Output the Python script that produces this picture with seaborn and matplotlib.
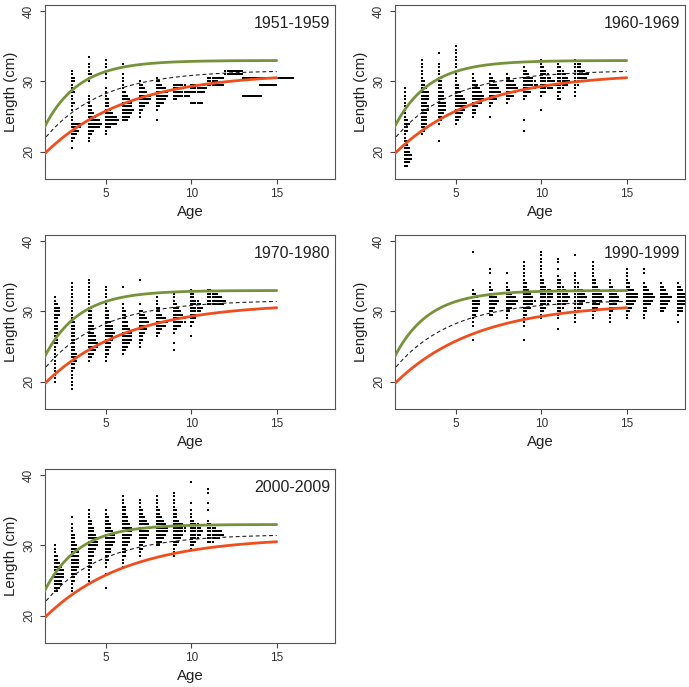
import numpy as np
import pandas as pd
import matplotlib
matplotlib.use("Agg")
import matplotlib.pyplot as plt
import seaborn as sns

# ---------------- data ----------------
panel_titles = ["1951-1959", "1960-1969", "1970-1980", "1990-1999", "2000-2009"]

# counts of fish per 0.5 cm length bin, by age: {age: [(length, count), ...]}
counts_1951 = {
    3: [(31.5,1),(31,1),(30.5,2),(30,2),(29.5,1),(29,1),(28.5,2),(28,1),(27.5,1),(27,2),(26.5,1),(26,1),
        (25,1),(24.5,1),(24,5),(23.5,5),(23,4),(22.5,3),(22,2),(21.5,1),(20.5,1)],
    4: [(33.5,1),(32.5,1),(32,1),(31.5,1),(31,2),(30.5,1),(30,1),(28,1),(27.5,1),(27,1),(26.5,2),(26,2),
        (25.5,3),(25,4),(24.5,6),(24,7),(23.5,6),(23,3),(22.5,2),(22,1),(21.5,1)],
    5: [(33,1),(32.5,1),(32,1),(31.5,1),(31,1),(30.5,1),(29,1),(28.5,1),(28,1),(27.5,2),(27,2),(26.5,2),
        (26,3),(25.5,4),(25,6),(24.5,7),(24,6),(23.5,3),(23,1),(22.5,1)],
    6: [(32.5,1),(31,1),(30.5,1),(30,1),(29.5,1),(29,1),(28.5,2),(28,3),(27.5,4),(27,5),(26.5,5),(26,6),
        (25.5,5),(25,4),(24.5,3)],
    7: [(30,1),(29.5,2),(29,3),(28.5,4),(28,6),(27.5,6),(27,5),(26.5,3),(26,2),(25.5,1),(25,1)],
    8: [(30.5,1),(30,2),(29.5,3),(29,5),(28.5,6),(28,6),(27.5,5),(27,4),(26.5,2),(26,1),(24.5,1)],
    9: [(29.5,6),(29,4),(28.5,11),(28,8),(27.5,2)],
    10: [(29.5,7),(29,8),(28.5,7),(27,6)],
    11: [(30.5,8),(30,5),(29.5,8)],
    12: [(31.5,9),(31,9)],
    13: [(30.5,9),(28,10)],
    14: [(30.5,8),(29.5,9)],
    15: [(30.5,9)],
}
counts_1960 = {
    2: [(29,1),(28.5,1),(28,1),(27.5,1),(27,1),(26.5,1),(26,1),(25.5,1),(25,1),(24.5,2),(24,3),(23.5,2),
        (23,2),(22.5,1),(22,1),(21.5,2),(21,2),(20.5,3),(20,3),(19.5,4),(19,4),(18.5,3),(18,2)],
    3: [(33,1),(32.5,1),(32,1),(31.5,1),(31,1),(30.5,1),(30,2),(29.5,2),(29,3),(28.5,4),(28,4),(27.5,4),
        (27,3),(26.5,4),(26,4),(25.5,3),(25,3),(24.5,3),(24,3),(23.5,2),(23,2),(22.5,1)],
    4: [(34,1),(32.5,1),(32,1),(31.5,1),(31,1),(30.5,2),(30,2),(29.5,2),(29,2),(28.5,3),(28,3),(27.5,3),
        (27,4),(26.5,4),(26,4),(25.5,3),(25,2),(24.5,2),(24,1),(21.5,1)],
    5: [(35,1),(34.5,1),(34,1),(33.5,1),(33,1),(32.5,1),(32,1),(31.5,1),(31,1),(30.5,1),(30,1),(29.5,2),
        (29,2),(28.5,3),(28,4),(27.5,5),(27,6),(26.5,6),(26,5),(25.5,4),(25,3),(24.5,2),(24,1)],
    6: [(31,1),(30.5,1),(30,2),(29.5,3),(29,4),(28.5,5),(28,6),(27.5,6),(27,5),(26.5,3),(26,2),(25.5,2),(25,1)],
    7: [(31,1),(30.5,2),(30,3),(29.5,4),(29,5),(28.5,6),(28,5),(27.5,4),(27,2),(26.5,1),(25,1)],
    8: [(31,1),(30.5,2),(30,4),(29.5,5),(29,6),(28.5,5),(28,4),(27.5,2),(27,1)],
    9: [(32,1),(31.5,2),(31,3),(30.5,5),(30,6),(29.5,7),(29,6),(28.5,4),(28,2),(27.5,1),(24.5,1),(23,1)],
    10: [(33,1),(32.5,1),(32,2),(31.5,3),(31,4),(30.5,5),(30,7),(29.5,8),(29,6),(28.5,3),(28,1),(26,1)],
    11: [(32.5,1),(32,2),(31.5,3),(31,4),(30.5,5),(30,6),(29.5,5),(29,3),(28.5,2),(28,1),(27.5,2)],
    12: [(33,1),(32.5,3),(32,3),(31.5,5),(31,7),(30.5,6),(30,4),(29.5,2),(29,1),(28.5,1),(28,1)],
}
counts_1970 = {
    2: [(32,1),(31.5,1),(31,2),(30.5,3),(30,3),(29.5,3),(29,2),(28.5,2),(28,2),(27.5,2),(27,2),(26.5,2),
        (26,2),(25.5,2),(25,1),(24.5,1),(24,1),(23.5,1),(23,1),(22.5,1),(22,1),(21.5,1),(21,1),(20.5,1),(20,1)],
    3: [(34,1),(33.5,1),(33,1),(32.5,1),(32,1),(31.5,1),(31,1),(30.5,1),(30,1),(29.5,1),(29,1),(28.5,2),
        (28,2),(27.5,2),(27,2),(26.5,2),(26,2),(25.5,2),(25,2),(24.5,2),(24,3),(23.5,3),(23,3),(22.5,2),
        (22,2),(21.5,1),(21,1),(20.5,1),(20,1),(19.5,1),(19,1)],
    4: [(34.5,1),(34,1),(33.5,1),(33,1),(32.5,1),(32,1),(31.5,1),(31,1),(30.5,2),(30,2),(29.5,2),(29,2),
        (28.5,2),(28,3),(27.5,3),(27,3),(26.5,4),(26,4),(25.5,5),(25,5),(24.5,4),(24,3),(23.5,2),(23,1)],
    5: [(33.5,1),(33,1),(32.5,1),(32,1),(31.5,2),(31,1),(30.5,1),(30,2),(29.5,2),(29,2),(28.5,3),(28,4),
        (27.5,4),(27,5),(26.5,4),(26,4),(25.5,3),(25,3),(24.5,2),(24,2),(23.5,1),(23,1)],
    6: [(33.5,1),(31,1),(30.5,1),(30,2),(29.5,2),(29,2),(28.5,3),(28,3),(27.5,4),(27,5),(26.5,5),(26,5),
        (25.5,4),(25,3),(24.5,2),(24,1)],
    7: [(34.5,1),(31,1),(30,2),(29.5,3),(29,4),(28.5,5),(28,5),(27.5,4),(27,3),(26.5,2),(26,2),(25.5,1),(25,1)],
    8: [(32,1),(31.5,1),(31,1),(30.5,2),(30,2),(29.5,3),(29,5),(28.5,6),(28,5),(27.5,3),(27,2),(26.5,1)],
    9: [(32.5,1),(32,1),(31.5,1),(31,2),(30.5,3),(30,4),(29.5,5),(29,6),(28.5,6),(28,4),(27.5,2),(27,1),
        (25.5,1),(24.5,1)],
    10: [(33,1),(32.5,2),(32,2),(31.5,4),(31,5),(30.5,6),(30,5),(29.5,4),(29,3),(28.5,2),(28,1),(26.5,1)],
    11: [(33,2),(32.5,5),(32,7),(31.5,9),(31,8)],
}
counts_1990 = {
    6: [(38.5,1),(33,1),(32.5,2),(32,3),(31.5,4),(31,4),(30.5,3),(30,3),(29.5,2),(29,1),(28.5,1),(28,1),(26,1)],
    7: [(36,1),(35.5,1),(34,1),(33.5,1),(33,2),(32.5,3),(32,4),(31.5,5),(31,4),(30.5,3),(30,2),(29.5,2)],
    8: [(35.5,1),(34,1),(33.5,1),(33,2),(32.5,3),(32,5),(31.5,6),(31,5),(30.5,3),(30,2),(29.5,1),(29,1)],
    9: [(37,1),(36.5,1),(36,1),(35.5,1),(35,1),(34.5,1),(34,2),(33.5,2),(33,3),(32.5,4),(32,5),(31.5,6),
        (31,5),(30.5,4),(30,2),(29.5,2),(29,1),(28.5,1),(28,1),(26,1)],
    10: [(38.5,1),(38,1),(37.5,1),(37,1),(36.5,1),(36,1),(35.5,1),(35,1),(34.5,2),(34,2),(33.5,3),(33,5),
         (32.5,6),(32,6),(31.5,5),(31,4),(30.5,3),(30,2),(29.5,1),(29,1)],
    11: [(37.5,1),(37,1),(36,1),(35,1),(34.5,2),(34,2),(33.5,3),(33,4),(32.5,5),(32,6),(31.5,5),(31,4),
         (30.5,3),(30,2),(29.5,1),(29,1),(27.5,1)],
    12: [(38,1),(35.5,1),(35,1),(34.5,1),(34,2),(33.5,2),(33,4),(32.5,5),(32,6),(31.5,5),(31,4),(30.5,3),
         (30,2),(29.5,1),(29,1),(28.5,1)],
    13: [(37,1),(36.5,1),(36,1),(35.5,1),(35,1),(34.5,2),(34,2),(33.5,3),(33,4),(32.5,5),(32,6),(31.5,5),
         (31,4),(30.5,3),(30,2),(29.5,1),(29,1)],
    14: [(34.5,1),(34,1),(33.5,2),(33,3),(32.5,4),(32,5),(31.5,5),(31,4),(30.5,3),(30,2),(29.5,1),(29,1),(28.5,1)],
    15: [(36,1),(35.5,1),(35,1),(34.5,1),(34,2),(33.5,2),(33,4),(32.5,6),(32,6),(31.5,5),(31,4),(30.5,3),
         (30,2),(29.5,1),(29,1)],
    16: [(36,1),(35.5,1),(34,1),(33.5,2),(33,3),(32.5,5),(32,6),(31.5,5),(31,4),(30.5,2),(30,2),(29.5,1),(29,1)],
    17: [(34,1),(33.5,2),(33,3),(32.5,4),(32,6),(31.5,5),(31,4),(30.5,3),(30,2)],
    18: [(34,1),(33.5,2),(33,3),(32.5,4),(32,5),(31.5,5),(31,5),(30.5,3),(30,3),(29.5,1),(28.5,1)],
}
counts_2000 = {
    2: [(30,1),(29.5,1),(29,1),(28.5,2),(28,2),(27.5,3),(27,4),(26.5,5),(26,5),(25.5,5),(25,4),(24.5,4),
        (24,3),(23.5,2)],
    3: [(34,1),(33,1),(32.5,1),(32,1),(31.5,2),(31,2),(30.5,2),(30,3),(29.5,3),(29,4),(28.5,4),(28,4),
        (27.5,4),(27,4),(26.5,3),(26,3),(25.5,2),(25,2),(24.5,1),(24,1),(23.5,1)],
    4: [(35,1),(34.5,1),(34,1),(33.5,2),(33,2),(32.5,3),(32,3),(31.5,4),(31,5),(30.5,5),(30,5),(29.5,4),
        (29,3),(28.5,3),(28,2),(27.5,2),(27,2),(26.5,1),(26,1),(25.5,1),(25,1),(24.5,1)],
    5: [(35,1),(34.5,1),(34,2),(33.5,2),(33,3),(32.5,3),(32,4),(31.5,5),(31,5),(30.5,5),(30,4),(29.5,3),
        (29,3),(28.5,2),(28,2),(27.5,1),(27,1),(26,1),(24,1)],
    6: [(37,1),(36.5,1),(36,1),(35.5,2),(35,2),(34.5,2),(34,3),(33.5,3),(33,4),(32.5,5),(32,5),(31.5,5),
        (31,4),(30.5,4),(30,3),(29.5,2),(29,2),(28.5,2),(28,1),(27.5,1),(27,1)],
    7: [(36.5,1),(36,1),(35.5,1),(35,2),(34.5,2),(34,3),(33.5,4),(33,5),(32.5,6),(32,5),(31.5,5),(31,4),
        (30.5,3),(30,2),(29.5,2),(29,1),(28.5,1)],
    8: [(37,1),(36.5,1),(36,1),(35.5,1),(35,2),(34.5,2),(34,3),(33.5,4),(33,5),(32.5,6),(32,6),(31.5,5),
        (31,4),(30.5,3),(30,2)],
    9: [(37.5,1),(37,1),(36.5,1),(36,1),(35.5,1),(35,2),(34.5,2),(34,2),(33.5,3),(33,5),(32.5,6),(32,6),
        (31.5,5),(31,4),(30.5,3),(30,2),(29.5,1),(29,1),(28.5,1)],
    10: [(39,1),(36,1),(35,1),(34.5,1),(34,1),(33.5,2),(33,4),(32.5,5),(32,6),(31.5,5),(31,4),(30.5,3),
         (30,2),(29.5,1)],
    11: [(38,1),(37.5,1),(36,1),(35,1),(33.5,1),(33,2),(32.5,4),(32,7),(31.5,8),(31,6),(30.5,3)],
}
panel_counts = [counts_1951, counts_1960, counts_1970, counts_1990, counts_2000]

# von Bertalanffy growth curves (same in every panel): upper (green), mean (dashed), lower (orange)
curve_names = ["upper", "mean", "lower"]
curve_Linf = [33.0, 31.6, 31.2]
curve_K = [0.50, 0.30, 0.21]
curve_t0 = [-1.10, -2.52, -3.35]
curve_colors = ["#76933C", "#222222", "#F04E1E"]
curve_end_age = 15

# ---------------- figure ----------------
sns.set_theme(style="white")
plt.rcParams["font.family"] = ["Liberation Sans", "DejaVu Sans"]

fig = plt.figure(figsize=(6.89, 6.87), dpi=100)
W, H = 689, 687
col_left = [45, 395]
ax_w = 290
row_top = [5, 235, 469]
ax_h = 174

step = 0.12   # horizontal stacking offset per fish (age units)
rect_marker = [(-0.65, -0.45), (0.65, -0.45), (0.65, 0.45), (-0.65, 0.45), (-0.65, -0.45)]

ages_line = np.linspace(1.0, curve_end_age, 300)

for i, title in enumerate(panel_titles):
    r, c = divmod(i, 2)
    ax = fig.add_axes([col_left[c] / W, 1 - (row_top[r] + ax_h) / H, ax_w / W, ax_h / H])

    rows = []
    for age, bins in panel_counts[i].items():
        for L, n in bins:
            for j in range(n):
                rows.append((age + j * step, L))
    df = pd.DataFrame(rows, columns=["Age", "Length"])
    sns.scatterplot(data=df, x="Age", y="Length", marker=rect_marker, s=4.2, color="black",
                    linewidth=0, ax=ax, legend=False, zorder=2)

    for name, Linf, K, t0, col in zip(curve_names, curve_Linf, curve_K, curve_t0, curve_colors):
        cdf = pd.DataFrame({"Age": ages_line, "Length": Linf * (1 - np.exp(-K * (ages_line - t0)))})
        if name == "mean":
            sns.lineplot(data=cdf, x="Age", y="Length", color=col, lw=0.8, ax=ax,
                         linestyle=(0, (3.5, 2.5)), zorder=3)
        else:
            sns.lineplot(data=cdf, x="Age", y="Length", color=col, lw=2.0, ax=ax, zorder=3)

    ax.set_xlim(1.42, 18.42)
    ax.set_ylim(16.08, 40.92)
    ax.set_xticks([5, 10, 15])
    ax.set_yticks([20, 30, 40])
    ax.tick_params(axis="both", which="major", length=3.6, width=0.8, color="#444444",
                   labelsize=8.5, labelcolor="#333333", bottom=True, left=True)
    ax.tick_params(axis="x", pad=3.2)
    ax.tick_params(axis="y", pad=3.5)
    for lab in ax.get_yticklabels():
        lab.set_rotation(90)
        lab.set_va("center")
    for sp in ax.spines.values():
        sp.set_color("#555555")
        sp.set_linewidth(0.8)
    ax.set_xlabel("Age", fontsize=10.8, color="#222222", labelpad=3)
    ax.set_ylabel("Length (cm)", fontsize=10.8, color="#222222", labelpad=4)
    ax.text(0.983, 0.895, title, transform=ax.transAxes, ha="right", va="center",
            fontsize=11.5, color="#222222", zorder=4)

fig.savefig("out.png", dpi=100, facecolor="white")
